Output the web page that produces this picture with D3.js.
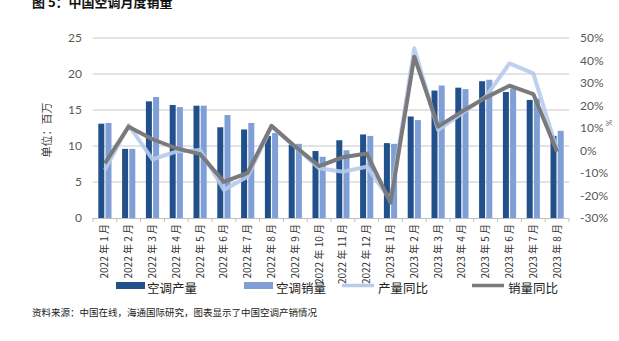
<!DOCTYPE html>
<html><head><meta charset="utf-8">
<script src="https://cdn.jsdelivr.net/npm/d3@7/dist/d3.min.js"></script>
<style>body{margin:0;background:#fff}svg{display:block}</style>
</head><body><svg id="c" width="619" height="341"></svg>
<script>
const categories = ["2022 年 1 月","2022 年 2 月","2022 年 3 月","2022 年 4 月","2022 年 5 月","2022 年 6 月","2022 年 7 月","2022 年 8 月","2022 年 9 月","2022 年 10 月","2022 年 11 月","2022 年 12 月","2023 年 1 月","2023 年 2 月","2023 年 3 月","2023 年 4 月","2023 年 5 月","2023 年 6 月","2023 年 7 月","2023 年 8 月"];
const production = [13.1,9.6,16.2,15.7,15.6,12.6,12.3,11.4,10.2,9.3,10.8,11.6,10.4,14.1,17.7,18.1,19.0,17.5,16.4,11.4];
const sales = [13.2,9.6,16.8,15.4,15.6,14.3,13.2,11.8,10.3,8.5,9.4,11.4,10.3,13.6,18.4,17.9,19.2,18.0,16.6,12.1];
const prodYoY = [-8.7,11.3,-3.9,-0.5,0.2,-17.6,-11.6,10.6,1.7,-7.9,-9.4,-7.2,-22.0,45.4,9.1,16.5,23.9,38.7,34.3,0.2];
const salesYoY = [-5.7,10.6,5.0,1.0,-1.6,-13.9,-9.9,11.0,1.7,-6.9,-3.0,-1.3,-23.2,41.7,10.6,17.3,23.5,28.8,25.1,-0.5];
const leftTicks = [0,5,10,15,20,25];
const rightTicks = [-30,-20,-10,0,10,20,30,40,50];
const title = "图 5：中国空调月度销量";
const yLabel = "单位：百万";
const source = "资料来源：中国在线，海通国际研究，图表显示了中国空调产销情况";
const legendNames = ["空调产量","空调销量","产量同比","销量同比"];

const C = {dark:"#21508a", light:"#7f9fd6", pline:"#b7cbeb", sline:"#7a7a7a", grid:"#c8c8c8", tick:"#595959"};
const svg = d3.select("#c");
const cjk = "'Noto Sans CJK SC', sans-serif";
const num = "Lato, 'Open Sans', sans-serif";
const L = 93, R = 569, T = 38, B = 218;

const x = d3.scaleBand().domain(categories).range([L, R]);
const y = d3.scaleLinear().domain([0,25]).range([B, T]);
const y2 = d3.scaleLinear().domain([-30,50]).range([B, T]);

// grid
svg.append("g").selectAll("line").data(leftTicks.filter(d=>d>0)).join("line")
  .attr("x1", L).attr("x2", R).attr("y1", d=>y(d)).attr("y2", d=>y(d))
  .attr("stroke", C.grid).attr("stroke-width", 1);

// bars
const bw = 6;
svg.append("g").selectAll("rect").data(production).join("rect")
  .attr("x", (d,i)=>x(categories[i]) + x.bandwidth()/2 - bw - 0.6)
  .attr("y", d=>y(d)).attr("width", bw).attr("height", d=>y(0)-y(d)).attr("fill", C.dark);
svg.append("g").selectAll("rect").data(sales).join("rect")
  .attr("x", (d,i)=>x(categories[i]) + x.bandwidth()/2 + 0.6)
  .attr("y", d=>y(d)).attr("width", bw).attr("height", d=>y(0)-y(d)).attr("fill", C.light);

// axis baseline
svg.append("line").attr("x1", L).attr("x2", R).attr("y1", B+0.5).attr("y2", B+0.5).attr("stroke", "#bfbfbf");
svg.append("g").selectAll("line").data(d3.range(categories.length+1)).join("line")
  .attr("x1", i=>L + i*x.step()).attr("x2", i=>L + i*x.step())
  .attr("y1", B).attr("y2", B+4).attr("stroke", "#bfbfbf");

// lines
const line = (arr)=> d3.line().x((d,i)=>x(categories[i]) + x.bandwidth()/2).y(d=>y2(d))(arr);
svg.append("path").attr("d", line(prodYoY)).attr("fill","none").attr("stroke", C.pline).attr("stroke-width", 4).attr("stroke-linejoin","round").attr("opacity",0.9);
svg.append("path").attr("d", line(salesYoY)).attr("fill","none").attr("stroke", C.sline).attr("stroke-width", 4).attr("stroke-linejoin","round");

// left ticks
svg.append("g").selectAll("text").data(leftTicks).join("text")
  .attr("x", 82).attr("y", d=>y(d)).attr("dy","0.35em").attr("text-anchor","end")
  .attr("font-family", num).attr("font-size", 12).attr("fill", C.tick).text(d=>d);
// right ticks
svg.append("g").selectAll("text").data(rightTicks).join("text")
  .attr("x", 580).attr("y", d=>y2(d)).attr("dy","0.35em").attr("text-anchor","start")
  .attr("font-family", num).attr("font-size", 12).attr("fill", C.tick).text(d=>d+"%");
svg.append("text").attr("transform","translate(606,123) rotate(90)").attr("text-anchor","middle")
  .attr("font-family", num).attr("font-size", 8).attr("fill", C.tick).text("%");

// y label
svg.append("text").attr("transform","translate(47,130) rotate(-90)").attr("dy","0.35em").attr("text-anchor","middle")
  .attr("font-family", cjk).attr("font-size", 11).attr("fill", "#404040").text(yLabel);

// x labels
svg.append("g").selectAll("text").data(categories).join("text")
  .attr("transform", d=>`translate(${x(d)+x.bandwidth()/2},224) rotate(-90)`)
  .attr("dy","0.35em").attr("text-anchor","end")
  .attr("font-family", cjk).attr("font-size", 10).attr("fill", "#333").text(d=>d);

// title
svg.append("text").attr("x", 32).attr("y", 6.5).attr("font-family", cjk).attr("font-weight","bold")
  .attr("font-size", 13).attr("fill","#111").text(title);

// legend
const lg = svg.append("g").attr("font-family", cjk).attr("font-size", 12.5).attr("fill","#222");
const items = [
  {type:"rect", c:C.dark, x:116, tx:147},
  {type:"rect", c:C.light, x:244, tx:276},
  {type:"line", c:C.pline, x:342, tx:378},
  {type:"line", c:C.sline, x:472, tx:508}
];
items.forEach((it,i)=>{
  if(it.type==="rect") lg.append("rect").attr("x", it.x).attr("y", 282).attr("width", 29).attr("height", 7).attr("fill", it.c);
  else lg.append("line").attr("x1", it.x).attr("x2", it.x+32).attr("y1", 285.5).attr("y2", 285.5).attr("stroke", it.c).attr("stroke-width", 3.5);
  lg.append("text").attr("x", it.tx).attr("y", 289).attr("dy","0.3em").text(legendNames[i]);
});

// source
svg.append("text").attr("x", 32).attr("y", 313).attr("dy","0.35em").attr("font-family", cjk)
  .attr("font-size", 9.5).attr("fill","#222").text(source);
</script></body></html>
